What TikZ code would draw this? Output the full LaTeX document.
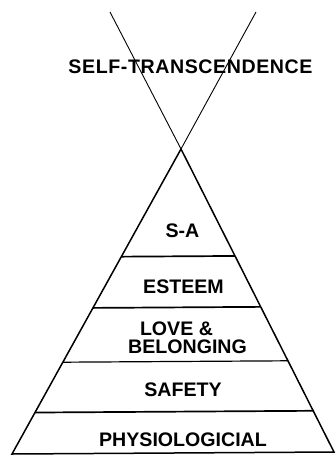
\documentclass[tikz,border=0pt]{standalone}
\usepackage{fontspec}
\setmainfont{Liberation Sans}
\usetikzlibrary{calc}
\begin{document}
\begin{tikzpicture}[x=1pt,y=-1pt,
  lbl/.style={font=\fontsize{19.6}{18}\selectfont\bfseries, inner sep=0pt, align=center, anchor=base},
  thin line/.style={line width=0.9pt},
  tier/.style={line width=1.7pt},
  tierthin/.style={line width=1.2pt}]
\useasboundingbox (0,0) rectangle (335,460);
% coordinates
\coordinate (vtl) at (110,12);
\coordinate (vtr) at (256,12);
\coordinate (apex) at (181,149);
\coordinate (bl) at (12,454);
\coordinate (br) at (334,452);
% V (self-transcendence)
\draw[thin line] (vtl) -- (apex) -- (vtr);
% pyramid
\draw[line width=1.5pt, line join=miter] (bl) -- (apex) -- (br) -- cycle;
% tier lines
\draw[tier] ($(apex)!0.353!(bl)$) -- ($(apex)!0.353!(br)$);
\draw[tier] ($(apex)!0.521!(bl)$) -- ($(apex)!0.521!(br)$);
\draw[tierthin] ($(apex)!0.699!(bl)$) -- ($(apex)!0.699!(br)$);
\draw[tier] ($(apex)!0.864!(bl)$) -- ($(apex)!0.864!(br)$);
% labels
\node[lbl, font=\fontsize{19.6}{18}\selectfont\bfseries\addfontfeature{LetterSpace=3}] (st) at (190.5,74) {SELF-TRANSCENDENCE};
\node[lbl] (sa) at (182.5,237) {S-A};
\node[lbl] (es) at (183.5,293) {ESTEEM};
\node[lbl] (lb) at (187.5,353) {LOVE \&\hspace*{22pt}\\BELONGING};
\node[lbl] (sf) at (183,396.5) {SAFETY};
\node[lbl] (ph) at (183,446.5) {PHYSIOLOGICIAL};
\end{tikzpicture}
\end{document}
